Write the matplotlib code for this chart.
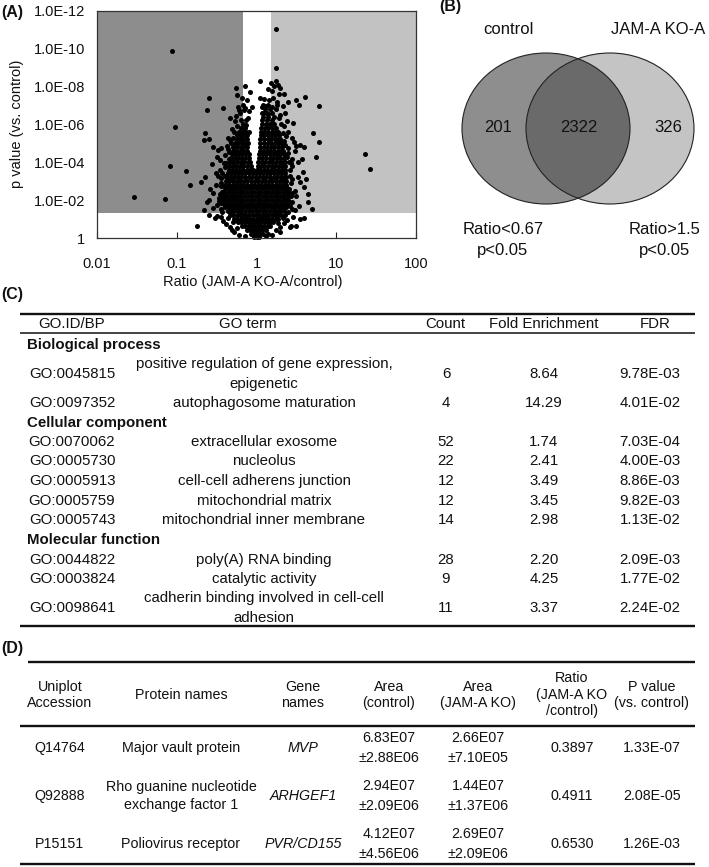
import numpy as np
import matplotlib
matplotlib.use('Agg')
import matplotlib.pyplot as plt
from matplotlib.patches import Ellipse, Rectangle

plt.rcParams['font.family'] = ['Liberation Sans', 'DejaVu Sans']

# ---------------- Panel A data ----------------
ratio_low = 0.67
ratio_high = 1.5
p_threshold = 0.05
x_ticks = [0.01, 0.1, 1, 10, 100]
x_tick_labels = ['0.01', '0.1', '1', '10', '100']
y_tick_p = [1, 1e-2, 1e-4, 1e-6, 1e-8, 1e-10, 1e-12]
y_tick_labels = ['1', '1.0E-02', '1.0E-04', '1.0E-06', '1.0E-08', '1.0E-10', '1.0E-12']

# dense core of the volcano (rows of -log10 p, with log10 ratios in each row)
dense_neglogp = [0.04, 0.22, 0.42, 0.62, 0.82, 1.02, 1.22, 1.42, 1.62, 1.82,
                 2.02, 2.22, 2.42, 2.62, 2.82, 3.02, 3.22, 3.42, 3.62, 3.82,
                 4.02, 4.22, 4.42, 4.62, 4.82, 5.02, 5.22, 5.42, 5.62, 5.82,
                 6.02, 6.22, 6.42, 6.62, 6.82, 7.05]
dense_log10ratio = [
    [-0.035, 0.0, 0.035],
    [-0.075, -0.035, 0.005, 0.045, 0.08],
    [-0.125, -0.085, -0.045, -0.005, 0.035, 0.075, 0.115],
    [-0.18, -0.14, -0.1, -0.06, -0.02, 0.02, 0.06, 0.1, 0.14, 0.17],
    [-0.23, -0.19, -0.15, -0.11, -0.07, -0.03, 0.01, 0.05, 0.09, 0.13, 0.17, 0.21],
    [-0.28, -0.24, -0.2, -0.16, -0.12, -0.08, -0.04, 0.0, 0.04, 0.08, 0.12, 0.16, 0.2, 0.24, 0.27],
    [-0.33, -0.29, -0.25, -0.21, -0.17, -0.13, -0.09, -0.05, -0.01, 0.03, 0.07, 0.11, 0.15, 0.19, 0.23, 0.27, 0.31],
    [-0.36, -0.32, -0.28, -0.235, -0.19, -0.145, -0.1, -0.055, -0.01, 0.035, 0.08, 0.125, 0.17, 0.215, 0.26, 0.3, 0.34],
    [-0.39, -0.35, -0.305, -0.26, -0.215, -0.17, -0.125, -0.08, -0.035, 0.01, 0.055, 0.1, 0.145, 0.19, 0.235, 0.28, 0.325, 0.37],
    [-0.41, -0.37, -0.325, -0.28, -0.235, -0.19, -0.145, -0.1, -0.055, -0.01, 0.035, 0.08, 0.125, 0.17, 0.215, 0.26, 0.305, 0.35, 0.39],
    [-0.42, -0.39, -0.345, -0.3, -0.255, -0.21, -0.165, -0.12, -0.075, -0.03, 0.015, 0.06, 0.105, 0.15, 0.195, 0.24, 0.285, 0.33, 0.375, 0.4],
    [-0.41, -0.37, -0.325, -0.28, -0.235, -0.19, -0.145, -0.1, -0.055, -0.01, 0.035, 0.08, 0.125, 0.17, 0.215, 0.26, 0.305, 0.35, 0.39],
    [-0.42, -0.39, -0.345, -0.3, -0.255, -0.21, -0.165, -0.12, -0.075, -0.03, 0.015, 0.06, 0.105, 0.15, 0.195, 0.24, 0.285, 0.33, 0.375, 0.4],
    [-0.4, -0.36, -0.325, -0.28, -0.235, -0.19, -0.145, -0.1, -0.055, -0.01, 0.035, 0.08, 0.125, 0.17, 0.215, 0.26, 0.305, 0.35, 0.385],
    [-0.39, -0.345, -0.3, -0.255, -0.21, -0.165, -0.12, -0.075, -0.03, 0.015, 0.06, 0.105, 0.15, 0.195, 0.24, 0.285, 0.33, 0.37],
    [-0.38, -0.34, -0.295, -0.25, -0.205, -0.16, -0.115, -0.07, -0.025, 0.02, 0.065, 0.11, 0.155, 0.2, 0.245, 0.29, 0.335, 0.37],
    [-0.37, -0.325, -0.28, -0.235, -0.19, -0.145, -0.1, -0.055, -0.01, 0.035, 0.08, 0.125, 0.17, 0.215, 0.26, 0.305, 0.35, 0.37],
    [-0.36, -0.32, -0.275, -0.23, -0.185, -0.14, -0.095, -0.05, -0.005, 0.04, 0.085, 0.13, 0.175, 0.22, 0.265, 0.31, 0.355],
    [-0.35, -0.305, -0.26, -0.215, -0.17, -0.125, -0.08, -0.04, 0.0, 0.045, 0.09, 0.135, 0.18, 0.225, 0.27, 0.315, 0.355],
    [-0.34, -0.3, -0.255, -0.21, -0.165, -0.12, -0.075, 0.015, 0.055, 0.1, 0.145, 0.19, 0.235, 0.28, 0.325, 0.36],
    [-0.33, -0.29, -0.245, -0.2, -0.155, -0.11, -0.08, 0.025, 0.065, 0.11, 0.155, 0.2, 0.245, 0.29, 0.335, 0.36],
    [-0.32, -0.275, -0.23, -0.185, -0.14, -0.095, 0.03, 0.075, 0.12, 0.165, 0.21, 0.255, 0.3, 0.345],
    [-0.31, -0.27, -0.225, -0.18, -0.135, -0.1, 0.035, 0.08, 0.125, 0.17, 0.215, 0.26, 0.3, 0.34],
    [-0.3, -0.255, -0.21, -0.165, -0.12, 0.04, 0.085, 0.13, 0.175, 0.22, 0.265, 0.31, 0.335],
    [-0.29, -0.245, -0.2, -0.155, -0.115, 0.045, 0.09, 0.135, 0.18, 0.225, 0.27, 0.315],
    [-0.27, -0.23, -0.185, -0.14, -0.11, 0.05, 0.095, 0.14, 0.185, 0.23, 0.275, 0.31],
    [-0.25, -0.21, -0.165, -0.12, 0.05, 0.095, 0.14, 0.185, 0.23, 0.275, 0.3],
    [-0.24, -0.195, -0.15, -0.115, 0.055, 0.1, 0.145, 0.19, 0.235, 0.28],
    [-0.22, -0.175, -0.13, 0.055, 0.1, 0.145, 0.19, 0.235, 0.27],
    [-0.2, -0.14, 0.06, 0.105, 0.15, 0.2, 0.25],
    [-0.17, 0.065, 0.12, 0.17, 0.225],
    [-0.13, 0.07, 0.13, 0.19],
    [0.085, 0.15, 0.22],
    [0.07, 0.13, 0.2],
    [0.11, 0.17],
    [0.08, 0.14],
]

# individually read scattered points
scatter_log10ratio = [
    -1.53, -1.15, -1.06, -1.02, -1.09, -0.88, -0.83, -0.70, -0.75, 1.36,
    1.42, 0.24, 0.24, 0.78, 0.78, 0.71, 0.74, 0.64, 0.69, 0.59,
    -0.59, -0.62, -0.42, -0.26, -0.24, -0.23, -0.33, -0.21, -0.19, -0.14,
    -0.14, -0.10, -0.12, -0.17, -0.64, -0.60, -0.66, -0.54, -0.48, -0.44,
    -0.37, -0.34, -0.30, -0.28, -0.50, -0.46, -0.41, -0.39, -0.51, -0.48,
    -0.44, -0.51, -0.45, -0.43, -0.54, -0.60, -0.62, -0.44, -0.47, -0.45,
    -0.55, -0.66, -0.58, -0.64, -0.56, -0.24, -0.27, -0.36, -0.32, -0.40,
    -0.46, -0.44, -0.49,
    0.61, 0.50, 0.53, 0.50, 0.55, 0.60, 0.48, 0.45, 0.52, 0.44,
    0.58, 0.62, 0.55, 0.60, 0.48, 0.50, 0.45, 0.53, 0.48, 0.42,
    0.43, 0.44, 0.40, 0.38, 0.36, 0.33, 0.28, 0.30, 0.22, 0.25,
    0.20, 0.14, 0.16, 0.12, 0.10, 0.24, 0.26, 0.30, 0.34, 0.37,
    0.36, 0.40, 0.41, 0.42, 0.41, 0.43, 0.42, 0.18, 0.27, 0.47,
    0.57, 0.65, 0.52, 0.46, 0.40, 0.35,
    -0.08, -0.06, -0.11, -0.13, -0.09, 0.05, 0.07, 0.04,
    -0.52, -0.50, -0.45, -0.42, -0.33, -0.31, -0.38, -0.28, -0.22, 0.46,
    0.55, 0.42, 0.30, 0.35, 0.38, 0.49, 0.43, 0.25, 0.20, 0.30,
    -0.60, -0.25, 0.33, 0.15, -0.15, 0.12, -0.36, 0.36, -0.29, 0.27,
    -0.46, -0.45, -0.43, -0.47, -0.43, -0.35, -0.36, -0.33, -0.31, -0.26,
    -0.22, -0.18, -0.20, -0.38, -0.40, 0.38, 0.39, 0.35, 0.33, 0.31,
    0.28, 0.26, 0.21, 0.43, 0.44, 0.45, 0.44, 0.40, 0.19, 0.15,
    0.09, -0.16,
]
scatter_neglogp = [
    2.18, 2.06, 9.90, 5.88, 3.80, 3.54, 2.80, 2.94, 0.65, 4.44,
    3.65, 11.03, 8.97, 6.99, 5.09, 5.53, 4.30, 1.92, 1.53, 1.04,
    7.38, 6.77, 6.89, 7.91, 7.55, 6.95, 6.35, 6.60, 6.25, 8.05,
    6.85, 6.70, 7.30, 7.05, 5.57, 5.22, 5.18, 4.83, 4.65, 4.75,
    4.85, 4.55, 5.30, 5.60, 4.30, 4.12, 3.98, 3.75, 3.42, 3.30,
    3.15, 2.80, 2.75, 2.45, 2.36, 2.01, 1.89, 1.83, 2.10, 1.55,
    1.60, 1.50, 2.60, 3.20, 3.90, 5.90, 6.20, 5.30, 5.00, 4.40,
    3.60, 2.10, 1.75,
    7.43, 7.29, 7.03, 4.85, 4.90, 4.80, 4.60, 4.20, 4.00, 3.80,
    3.50, 3.10, 2.95, 2.70, 2.50, 2.20, 1.90, 1.70, 1.50, 3.30,
    2.90, 5.30, 5.60, 6.20, 6.60, 7.00, 7.60, 7.95, 8.05, 8.30,
    7.75, 7.90, 7.30, 7.00, 6.60, 6.80, 7.20, 6.50, 5.90, 5.40,
    4.90, 4.50, 4.00, 3.60, 2.60, 2.20, 1.70, 8.20, 8.10, 5.05,
    4.15, 2.30, 3.25, 6.10, 7.20, 7.60,
    7.70, 6.90, 6.35, 5.95, 5.60, 7.40, 6.90, 8.30,
    1.06, 1.18, 1.10, 0.90, 0.58, 0.42, 0.75, 0.30, 0.18, 1.10,
    1.00, 0.58, 0.32, 0.80, 0.95, 0.63, 0.62, 0.42, 0.15, 0.60,
    1.20, 0.55, 1.05, 0.22, 0.12, 0.10, 1.05, 1.20, 0.82, 0.80,
    2.30, 2.90, 3.45, 1.95, 1.40, 4.20, 4.70, 5.20, 5.75, 6.45,
    6.75, 7.40, 5.35, 3.95, 3.30, 4.30, 4.75, 5.15, 5.55, 6.05,
    6.35, 7.05, 7.40, 3.95, 3.10, 2.40, 1.55, 1.35, 6.95, 6.55,
    7.35, 6.75,
]

# ---------------- Panel B data ----------------
venn_set_labels = ['control', 'JAM-A KO-A']
venn_counts = [201, 2322, 326]
venn_criteria = [['Ratio<0.67', 'p<0.05'], ['Ratio>1.5', 'p<0.05']]

# ---------------- Panel C data ----------------
c_header = ['GO.ID/BP', 'GO term', 'Count', 'Fold Enrichment', 'FDR']
c_sections = ['Biological process', 'Cellular component', 'Molecular function']
c_ids = ['GO:0045815', 'GO:0097352', 'GO:0070062', 'GO:0005730', 'GO:0005913',
         'GO:0005759', 'GO:0005743', 'GO:0044822', 'GO:0003824', 'GO:0098641']
c_terms = [['positive regulation of gene expression,', 'epigenetic'],
           ['autophagosome maturation'],
           ['extracellular exosome'], ['nucleolus'], ['cell-cell adherens junction'],
           ['mitochondrial matrix'], ['mitochondrial inner membrane'],
           ['poly(A) RNA binding'], ['catalytic activity'],
           ['cadherin binding involved in cell-cell', 'adhesion']]
c_counts = ['6', '4', '52', '22', '12', '12', '14', '28', '9', '11']
c_fold = ['8.64', '14.29', '1.74', '2.41', '3.49', '3.45', '2.98', '2.20', '4.25', '3.37']
c_fdr = ['9.78E-03', '4.01E-02', '7.03E-04', '4.00E-03', '8.86E-03', '9.82E-03',
         '1.13E-02', '2.09E-03', '1.77E-02', '2.24E-02']

# ---------------- Panel D data ----------------
d_header = [['Uniplot', 'Accession'], ['Protein names'], ['Gene', 'names'],
            ['Area', '(control)'], ['Area', '(JAM-A KO)'],
            ['Ratio', '(JAM-A KO', '/control)'], ['P value', '(vs. control)']]
d_accession = ['Q14764', 'Q92888', 'P15151']
d_protein = [['Major vault protein'], ['Rho guanine nucleotide', 'exchange factor 1'],
             ['Poliovirus receptor']]
d_gene = ['MVP', 'ARHGEF1', 'PVR/CD155']
d_area_control = ['6.83E07', '2.94E07', '4.12E07']
d_area_control_sd = ['2.88E06', '2.09E06', '4.56E06']
d_area_ko = ['2.66E07', '1.44E07', '2.69E07']
d_area_ko_sd = ['7.10E05', '1.37E06', '2.09E06']
d_ratio = ['0.3897', '0.4911', '0.6530']
d_pvalue = ['1.33E-07', '2.08E-05', '1.26E-03']

# ================= drawing =================
W, H = 709, 867
fig = plt.figure(figsize=(W / 100, H / 100), dpi=100)
fig.patch.set_facecolor('white')

ov = fig.add_axes([0, 0, 1, 1])
ov.set_xlim(0, W)
ov.set_ylim(H, 0)
ov.axis('off')

TXT = '#111111'

# ----- Panel A -----
ax = fig.add_axes([97 / W, 1 - 238 / H, 319 / W, 227 / H])
ax.set_xscale('log')
ax.set_xlim(0.01, 100)
ax.set_ylim(0, 12)
thr = -np.log10(p_threshold)
ax.add_patch(Rectangle((0.01, thr), ratio_low - 0.01, 12 - thr,
                       facecolor='#8d8d8d', edgecolor='none', zorder=0))
ax.add_patch(Rectangle((ratio_high, thr), 100 - ratio_high, 12 - thr,
                       facecolor='#c2c2c2', edgecolor='none', zorder=0))

xs, ys = [], []
for nl, row in zip(dense_neglogp, dense_log10ratio):
    xs.extend(10 ** np.array(row))
    ys.extend([nl] * len(row))
xs.extend(10 ** np.array(scatter_log10ratio))
ys.extend(scatter_neglogp)
ax.scatter(xs, ys, s=13, c='black', linewidths=0, zorder=3, clip_on=False)

ax.set_xticks(x_ticks)
ax.set_xticklabels(x_tick_labels)
ax.xaxis.set_minor_locator(matplotlib.ticker.NullLocator())
ax.set_yticks(-np.log10(y_tick_p))
ax.set_yticklabels(y_tick_labels)
ax.tick_params(axis='x', direction='in', length=4, width=0.8, labelsize=10.5,
               pad=13.5, colors='#222222', labelcolor=TXT)
ax.tick_params(axis='y', direction='in', length=0, width=0.8, labelsize=10.5,
               pad=8.5, labelcolor=TXT)
for sp in ax.spines.values():
    sp.set_linewidth(0.9)
    sp.set_color('#333333')
    sp.set_zorder(4)

ov.text(17, 124, 'p value (vs. control)', rotation=90, ha='center', va='center',
        fontsize=10.5, color=TXT)
ov.text(253, 282, 'Ratio (JAM-A KO-A/control)', ha='center', va='center',
        fontsize=10.5, color=TXT)

# panel labels
ov.text(1, 13, '(A)', fontweight='bold', fontsize=11.5, ha='left', va='center', color=TXT)
ov.text(439, 6, '(B)', fontweight='bold', fontsize=11.5, ha='left', va='center', color=TXT)
ov.text(1, 294, '(C)', fontweight='bold', fontsize=11.5, ha='left', va='center', color=TXT)
ov.text(1, 649, '(D)', fontweight='bold', fontsize=11.5, ha='left', va='center', color=TXT)

# ----- Panel B: Venn -----
cy = 128.5
ew, eh = 168, 151
left_e = Ellipse((546, cy), ew, eh, facecolor='#8e8e8e', edgecolor='none', zorder=1)
right_e = Ellipse((610, cy), ew, eh, facecolor='#c4c4c4', edgecolor='none', zorder=2)
over_e = Ellipse((610, cy), ew, eh, facecolor='#6a6a6a', edgecolor='none', zorder=3)
ov.add_patch(left_e)
ov.add_patch(right_e)
ov.add_patch(over_e)
over_e.set_clip_path(left_e)
ov.add_patch(Ellipse((546, cy), ew, eh, fill=False, edgecolor='#222222', lw=0.8, zorder=4))
ov.add_patch(Ellipse((610, cy), ew, eh, fill=False, edgecolor='#222222', lw=0.8, zorder=4))

ov.text(508, 30, venn_set_labels[0], ha='center', va='center', fontsize=12, color=TXT)
ov.text(658, 30, venn_set_labels[1], ha='center', va='center', fontsize=12, color=TXT)
for x, c in zip([498, 579, 668], venn_counts):
    ov.text(x, 128, str(c), ha='center', va='center', fontsize=12, color=TXT, zorder=5)
for x, lines in zip([503, 665], venn_criteria):
    for y, s in zip([230, 250], lines):
        ov.text(x, y, s, ha='center', va='center', fontsize=12, color=TXT)

# ----- Panel C: table -----
fsC = 10.8
def hline(y, x0, x1, lw):
    ov.plot([x0, x1], [y, y], color='#111111', lw=lw, solid_capstyle='butt')

hline(314, 20, 695, 1.7)
hline(333, 20, 695, 1.1)
hline(626, 20, 695, 1.7)

c_col_x = [72, 248, 445, 544, 655]
for x, s in zip(c_col_x, c_header):
    ov.text(x, 324, s, ha='center', va='center', fontsize=fsC, color=TXT)

section_y = [345, 423, 540]
for y, s in zip(section_y, c_sections):
    ov.text(27, y, s, ha='left', va='center', fontsize=fsC, fontweight='bold', color=TXT)

row_y = [374, 403, 442, 461, 481, 501, 520, 560, 579, 608]
for i, y in enumerate(row_y):
    ov.text(72, y, c_ids[i], ha='center', va='center', fontsize=fsC, color=TXT)
    lines = c_terms[i]
    if len(lines) == 1:
        ov.text(264, y, lines[0], ha='center', va='center', fontsize=fsC, color=TXT)
    else:
        ov.text(264, y - 10, lines[0], ha='center', va='center', fontsize=fsC, color=TXT)
        ov.text(264, y + 10, lines[1], ha='center', va='center', fontsize=fsC, color=TXT)
    ov.text(446, y, c_counts[i], ha='center', va='center', fontsize=fsC, color=TXT)
    ov.text(544, y, c_fold[i], ha='center', va='center', fontsize=fsC, color=TXT)
    ov.text(650, y, c_fdr[i], ha='center', va='center', fontsize=fsC, color=TXT)

# ----- Panel D: table -----
fsD = 10.3
hline(662, 28, 695, 1.7)
hline(726, 20, 695, 1.7)
hline(864, 20, 695, 1.7)

d_col_x = [60, 181, 303, 389, 478, 572, 652]
for x, lines in zip(d_col_x, d_header):
    n = len(lines)
    for k, s in enumerate(lines):
        y = 695 + (k - (n - 1) / 2) * 16.5
        ov.text(x, y, s, ha='center', va='center', fontsize=fsD, color=TXT)

d_row_y = [748, 796, 844]
for i, y in enumerate(d_row_y):
    ov.text(d_col_x[0], y, d_accession[i], ha='center', va='center', fontsize=fsD, color=TXT)
    pl = d_protein[i]
    if len(pl) == 1:
        ov.text(d_col_x[1], y, pl[0], ha='center', va='center', fontsize=fsD, color=TXT)
    else:
        ov.text(d_col_x[1], y - 9, pl[0], ha='center', va='center', fontsize=fsD, color=TXT)
        ov.text(d_col_x[1], y + 9, pl[1], ha='center', va='center', fontsize=fsD, color=TXT)
    ov.text(d_col_x[2], y, d_gene[i], ha='center', va='center', fontsize=fsD,
            style='italic', color=TXT)
    ov.text(d_col_x[3], y - 10, d_area_control[i], ha='center', va='center', fontsize=fsD, color=TXT)
    ov.text(d_col_x[3], y + 10, '\u00b1' + d_area_control_sd[i], ha='center', va='center',
            fontsize=fsD, color=TXT)
    ov.text(d_col_x[4], y - 10, d_area_ko[i], ha='center', va='center', fontsize=fsD, color=TXT)
    ov.text(d_col_x[4], y + 10, '\u00b1' + d_area_ko_sd[i], ha='center', va='center',
            fontsize=fsD, color=TXT)
    ov.text(d_col_x[5], y, d_ratio[i], ha='center', va='center', fontsize=fsD, color=TXT)
    ov.text(d_col_x[6], y, d_pvalue[i], ha='center', va='center', fontsize=fsD, color=TXT)

fig.savefig('out.png', dpi=100, facecolor='white')
